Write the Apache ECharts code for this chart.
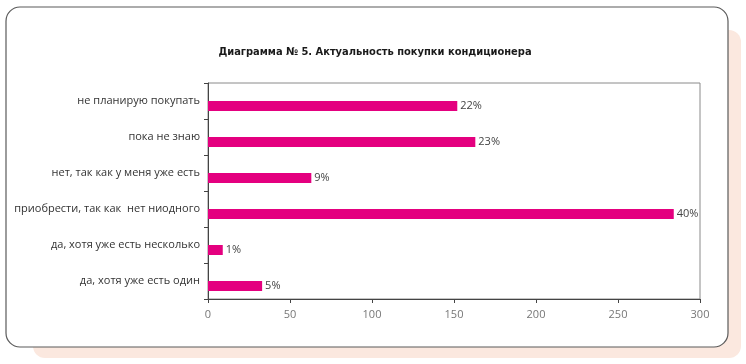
<!DOCTYPE html>
<html><head><meta charset="utf-8">
<script src="https://cdn.jsdelivr.net/npm/echarts@6/dist/echarts.min.js"></script>
<style>html,body{margin:0;padding:0;background:#fff}#c{width:746px;height:364px}</style>
</head><body><div id="c"></div>
<script>
var categories = ['да, хотя уже есть один','да, хотя уже есть несколько','приобрести, так как  нет ниодного','нет, так как у меня уже есть','пока не знаю','не планирую покупать'];
var values = [33, 9, 284, 63, 163, 152];
var percentLabels = ['5%','1%','40%','9%','23%','22%'];
var xTicks = [0, 50, 100, 150, 200, 250, 300];

var chart = echarts.init(document.getElementById('c'));
chart.setOption({
  animation:false,
  graphic:[
    {type:'rect', z:-10, shape:{x:33,y:30,width:708,height:328,r:12}, style:{fill:'#fbe8df'}},
    {type:'rect', z:-9, shape:{x:6,y:7,width:722,height:340,r:14}, style:{fill:'#ffffff',stroke:'#5a5a5a',lineWidth:1.2}},
    {type:'rect', z:-8, shape:{x:208,y:83,width:492,height:216}, style:{fill:'none',stroke:'#8a8a8a',lineWidth:1}}
  ],
  title:{text:'Диаграмма № 5. Актуальность покупки кондиционера', left:370, textAlign:'center', top:42,
    textStyle:{fontFamily:'DejaVu Sans Condensed', fontWeight:'bold', fontSize:11, color:'#1a1a1a'}},
  grid:{left:208, right:46, top:83, bottom:65},
  xAxis:{type:'value', min:0, max:300, interval:50,
    axisLine:{show:true, lineStyle:{color:'#444'}},
    axisTick:{show:true, length:4, lineStyle:{color:'#444'}},
    splitLine:{show:false},
    axisLabel:{color:'#777', fontFamily:'Open Sans', fontSize:11, margin:10}},
  yAxis:{type:'category', data:categories,
    axisLine:{show:true, lineStyle:{color:'#444'}},
    axisTick:{show:true, length:4, lineStyle:{color:'#444'}},
    axisLabel:{color:'#333', fontFamily:'Open Sans', fontSize:11, margin:8}},
  series:[
    {type:'bar', data:[], barWidth:10, barGap:'0%', silent:true},
    {type:'bar', data:values, barWidth:10, barGap:'0%', itemStyle:{color:'#e4007f'},
    label:{show:true, position:'right', distance:3, color:'#444', fontFamily:'Open Sans', fontSize:11,
      formatter:function(p){return percentLabels[p.dataIndex];}}}]
});
</script></body></html>
